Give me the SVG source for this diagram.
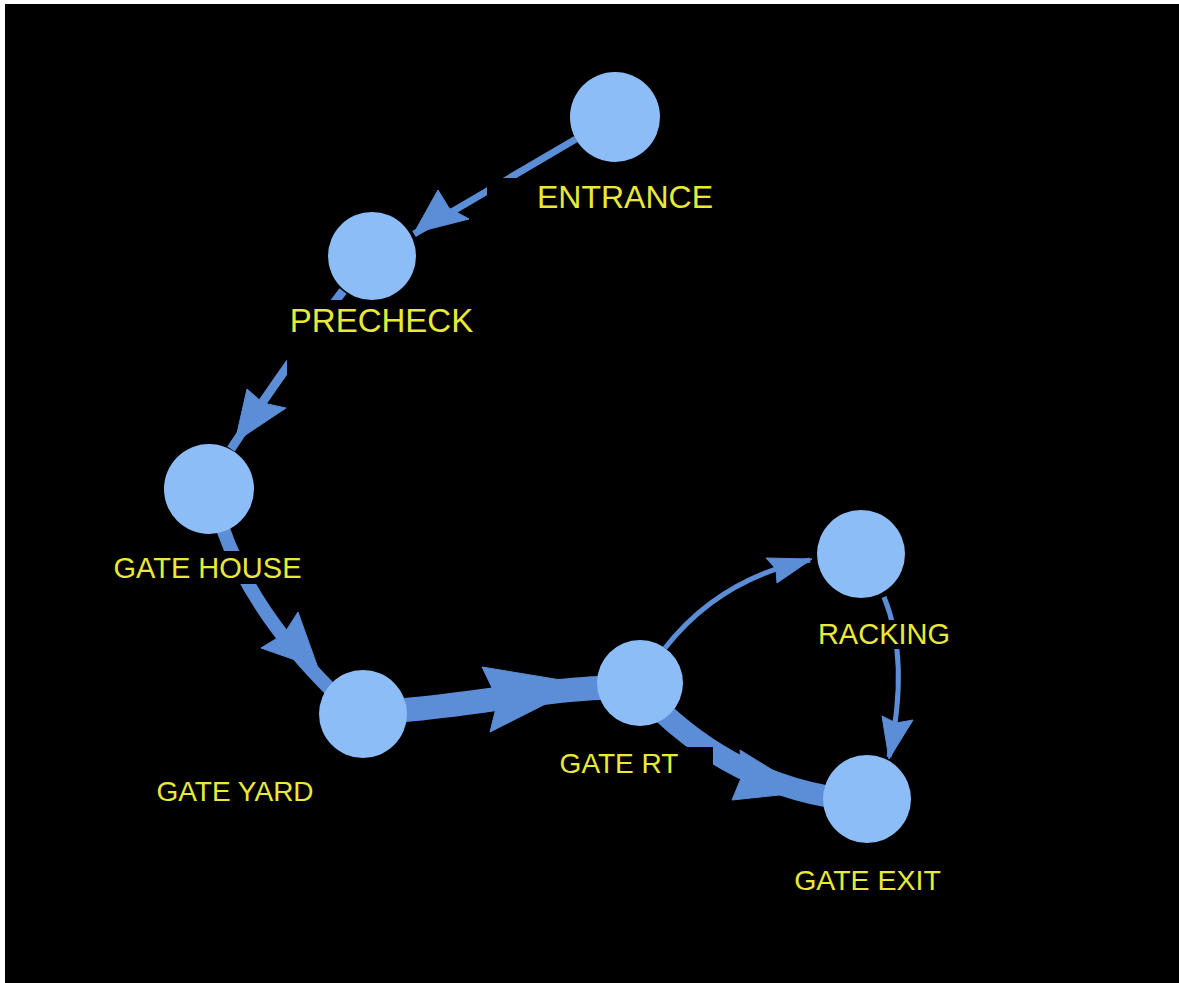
<svg xmlns="http://www.w3.org/2000/svg" width="1179" height="983" viewBox="0 0 1179 983">
  <style>
    .edge { fill: none; stroke: #5b8ed6; stroke-linecap: butt; }
    .head { fill: #5b8ed6; stroke: #5b8ed6; stroke-width: 1; stroke-linejoin: round; }
    .node { fill: #8dbdf6; }
    .lbl-bg { fill: #000000; }
    .lbl { fill: #e9e93a; font-family: "Liberation Sans", Arial, sans-serif; text-anchor: middle; }
  </style>

  <!-- backdrop -->
  <rect x="0" y="0" width="1179" height="983" fill="#ffffff"/>
  <rect x="5" y="4" width="1174" height="979" fill="#000000"/>

  <!-- connectors -->
  <g id="edges">
    <!-- ENTRANCE -> PRECHECK -->
    <path class="edge" stroke-width="7" d="M 576,139 L 414,234"/>
    <polygon class="head" points="414,233 438,190 449,208 469,219"/>

    <!-- PRECHECK -> GATE HOUSE -->
    <path class="edge" stroke-width="9" d="M 343,291 Q 290,360 231,449"/>
    <polygon class="head" points="235,442 247,389 263,403 286,408"/>

    <!-- GATE HOUSE -> GATE YARD -->
    <path class="edge" stroke-width="14" d="M 223,529 Q 252,612 333,692"/>
    <polygon class="head" points="318,668 261,648 284,634 298,612"/>

    <!-- GATE YARD -> GATE RT -->
    <path class="edge" stroke-width="24" d="M 405,710 C 470,705 540,690 600,688"/>
    <polygon class="head" points="585,684 482,667 498,700 490,732"/>

    <!-- GATE RT -> RACKING -->
    <path class="edge" stroke-width="5" d="M 665,648 Q 720,578 810,560"/>
    <polygon class="head" points="812,559 766,558 776,569 777,583"/>

    <!-- RACKING -> GATE EXIT -->
    <path class="edge" stroke-width="5" d="M 884,597 Q 910,660 889,757"/>
    <polygon class="head" points="889,759 882,716 896,723 913,720"/>

    <!-- GATE RT -> GATE EXIT -->
    <path class="edge" stroke-width="22" d="M 662,712 Q 735,780 830,797"/>
    <polygon class="head" points="808,792 740,750 742,776 732,800"/>
  </g>

  <!-- nodes -->
  <g id="node-entrance">
    <rect class="lbl-bg" x="487" y="178" width="233" height="40"/>
    <circle class="node" cx="615" cy="117" r="45"/>
    <text class="lbl" x="625" y="208" font-size="32">ENTRANCE</text>
  </g>

  <g id="node-precheck">
    <rect class="lbl-bg" x="287" y="300" width="193" height="105"/>
    <circle class="node" cx="372" cy="256" r="44"/>
    <text class="lbl" x="381.5" y="332" font-size="33">PRECHECK</text>
  </g>

  <g id="node-gate-house">
    <rect class="lbl-bg" x="108" y="551" width="195" height="33"/>
    <circle class="node" cx="209" cy="489" r="45"/>
    <text class="lbl" x="207.5" y="578" font-size="29">GATE HOUSE</text>
  </g>

  <g id="node-gate-yard">
    <rect class="lbl-bg" x="150" y="775" width="170" height="32"/>
    <circle class="node" cx="363" cy="714" r="44"/>
    <text class="lbl" x="235" y="801" font-size="28">GATE YARD</text>
  </g>

  <g id="node-gate-rt">
    <rect class="lbl-bg" x="548" y="747" width="165" height="37"/>
    <circle class="node" cx="640" cy="683" r="43"/>
    <text class="lbl" x="619" y="773" font-size="28">GATE RT</text>
  </g>

  <g id="node-racking">
    <rect class="lbl-bg" x="815" y="620" width="139" height="29"/>
    <circle class="node" cx="861" cy="554" r="44"/>
    <text class="lbl" x="884" y="644" font-size="29">RACKING</text>
  </g>

  <g id="node-gate-exit">
    <rect class="lbl-bg" x="788" y="863" width="160" height="32"/>
    <circle class="node" cx="867" cy="799" r="44"/>
    <text class="lbl" x="867.5" y="890" font-size="28.5">GATE EXIT</text>
  </g>
</svg>
